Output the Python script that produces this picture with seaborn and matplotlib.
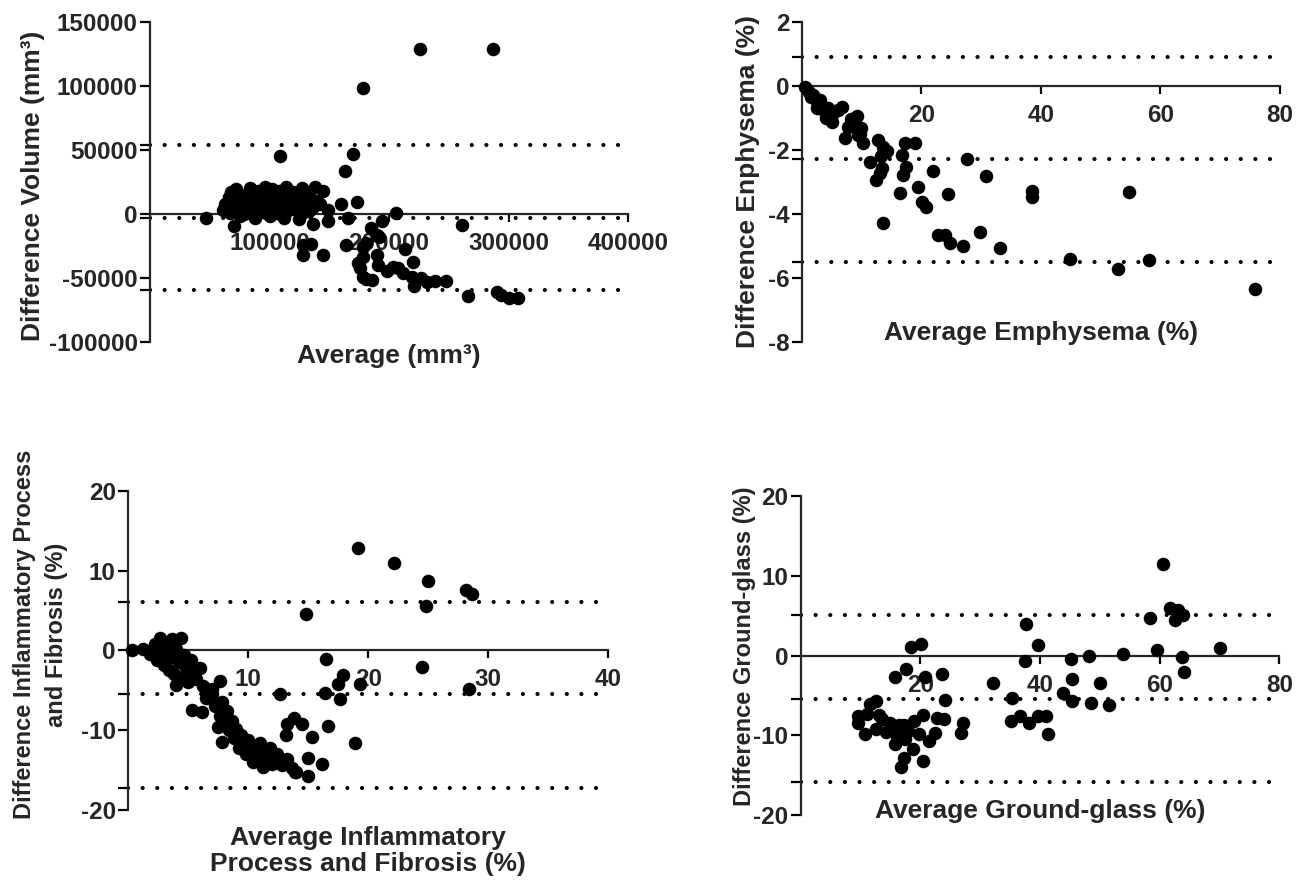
import numpy as np
import pandas as pd
import matplotlib
matplotlib.use('Agg')
import matplotlib.pyplot as plt
import seaborn as sns

# Volume panel (values in thousands of mm3)
vol_avg = [68, 72, 84, 90, 96, 102, 108, 114, 120, 127, 133, 138, 145,
           66, 70, 76, 80, 86, 93, 99, 104, 110, 116, 122, 128, 134, 140,
           63, 68, 73, 78, 84, 89, 94, 100, 106, 112, 118, 124, 130, 136, 142,
           61, 67, 72, 79, 85, 91, 97, 103, 109, 115, 121, 127, 133,
           75, 88, 100, 112, 125,
           47, 70.6, 109, 170, 163, 173, 160, 149, 166, 149, 136, 178, 226, 287, 205.6, 261,
           128, 135, 128, 144.5, 164,
           185, 194, 191.6, 189.7, 181, 178.5, 178.5, 189.7, 174, 175.7, 178.5, 181, 186,
           191, 198, 203.6, 207.8, 213, 212, 220, 219, 220.6, 227, 231.5, 238.5, 248,
           266, 290.6, 294, 300.7, 308]
vol_diff = [17, 19, 20, 18, 21, 19, 18, 21, 17, 20, 17, 21, 18,
            13, 15, 13, 15, 14, 15, 13, 15, 12, 14, 13, 15, 12, 10,
            8, 9, 7, 10, 8, 6, 9, 7, 10, 8, 6, 9, 7, 5, 8,
            3, 1, 3, 0, 2, 4, 1, 3, 0, 2, 4, 1, 2,
            -2, -3, -2, -3, -4,
            -3.6, -9.6, 45, 46.6, 33.4, 8.9, 7.6, 2.9, -3.6, -5.7, -8, 98.4, 128.4, 129, 1, -8.8,
            -24.5, -23.7, -32, -32, -24,
            -11.4, -5.5, -18, -16.6, -23, -25.8, -33.6, -32, -38.8, -42.7, -49, -51, -51.8,
            -40, -45, -41.4, -42.7, -27.8, -46.6, -37.5, -49, -56.5, -50.5, -53, -52.6, -52.6,
            -64.3, -61, -63.5, -65.6, -65.6]
vol_lines = [53.7, -2.9, -59.6]

# Emphysema panel (%)
emph_avg = [0.55, 1.2, 1.9, 2.5, 2.5, 3.2, 3.9, 4.4, 5.0, 5.3, 6.0, 6.7, 7.2, 8.6, 9.2,
            9.5, 10.0, 10.3, 12.8, 13.6, 14.3, 11.4, 13.4, 13.1, 12.4, 17.3, 18.9, 16.7,
            17.4, 17.0, 16.4, 13.6, 19.5, 20.1, 20.8, 22.0, 24.5, 27.6, 30.8, 22.8, 24.0,
            24.8, 26.9, 29.8, 33.2, 38.5, 38.6, 44.9, 52.9, 54.7, 58.1, 75.8,
            1.5, 3.0, 4.7, 7.8, 8.2, 9.8, 13.3, 4.0]
emph_diff = [-0.05, -0.2, -0.29, -0.5, -0.71, -0.6, -0.81, -0.7, -1.12, -0.86, -0.75, -0.66,
             -1.64, -1.18, -0.95, -1.54, -1.33, -1.8, -1.7, -1.9, -2.03, -2.37, -2.58, -2.74,
             -2.95, -1.8, -1.8, -2.17, -2.53, -2.79, -3.34, -4.3, -3.16, -3.63, -3.78, -2.67,
             -3.39, -2.3, -2.82, -4.67, -4.67, -4.9, -5.0, -4.56, -5.08, -3.28, -3.47, -5.42,
             -5.74, -3.33, -5.45, -6.36,
             -0.35, -0.45, -0.95, -1.3, -1.05, -1.5, -2.2, -1.0]
emph_lines = [0.9, -2.3, -5.5]

# Inflammatory process and fibrosis panel (%)
infl_avg = [19.1, 22.1, 25.0, 28.1, 28.6, 24.8, 14.8, 16.5, 24.5, 28.4, 19.3, 17.9, 17.5,
            17.6, 16.4, 12.6, 16.6, 18.9, 15.3, 15.0, 16.1, 15.0, 13.9, 13.1, 13.2, 13.8,
            14.5, 0.33,
            1.2, 1.8, 2.2, 2.4, 2.6, 2.8, 3.0, 3.2, 3.4, 3.6, 3.6, 3.8, 4.0, 4.2, 4.4, 4.4,
            4.6, 4.8, 5.0, 5.2, 5.4, 5.6, 6.0, 6.2, 4.0, 6.5, 7.0, 7.2, 7.6, 7.8, 8.0, 8.2,
            8.4, 8.6, 8.8, 9.0, 9.2, 9.4, 9.6, 9.8, 10.0, 10.2, 10.4, 10.6, 10.8, 11.0, 11.2,
            11.4, 11.6, 11.8, 12.0, 12.4, 12.8, 13.2, 13.6, 14.0, 7.5, 7.8, 6.1, 5.3, 7.6, 6.95]
infl_diff = [12.8, 11.0, 8.75, 7.6, 7.1, 5.6, 4.6, -1.04, -2.08, -4.8, -4.2, -3.1, -4.2,
             -6.1, -5.4, -5.5, -9.5, -11.6, -10.8, -13.5, -14.25, -15.7, -15.2, -10.6, -9.2,
             -8.5, -9.25, 0.1,
             0.2, -0.5, 0.8, -1.2, 1.5, -0.3, -1.8, 0.6, -2.4, 1.4, -0.8, -3.0, 0.2, -1.5, 1.6,
             -3.6, -0.6, -2.2, -4.0, -1.2, -2.8, -3.6, -2.2, -4.5, -4.4, -6.0, -5.5, -7.0, -8.2,
             -6.5, -9.0, -7.6, -10.0, -8.8, -11.0, -9.8, -12.2, -10.6, -11.8, -13.0, -11.2,
             -12.6, -14.0, -12.0, -13.4, -11.6, -14.6, -12.8, -13.6, -12.2, -14.2, -13.0, -14.4,
             -13.6, -14.8, -15.2, -9.6, -11.5, -7.7, -7.5, -3.8, -4.8]
infl_lines = [6.1, -5.5, -17.2]

# Ground-glass panel (%)
gg_avg = [60.5, 61.8, 63.1, 63.9, 62.6, 58.3, 59.5, 70.0, 63.7, 64.0, 53.8, 48.2, 45.2, 45.3,
          50.0, 43.9, 45.3, 48.5, 51.6, 37.7, 39.6, 37.4, 32.1, 35.3, 35.1, 36.7, 38.1, 39.7,
          41.0, 41.4, 18.4, 20.1, 17.6, 15.8, 20.8, 23.6, 24.1, 27.2, 26.8, 11.6, 12.6, 9.6,
          9.6, 10.75, 13.1, 12.6, 14.9, 15.5, 16.1, 15.8, 17.3, 17.4, 18.7, 17.2, 16.7, 19.7,
          20.5, 20.4, 21.5, 22.5, 22.7, 24.0, 13.5, 11.0, 14.2, 16.4, 18.0, 19.0]
gg_diff = [11.5, 5.96, 5.75, 5.1, 4.5, 4.7, 0.75, 0.96, -0.17, -2.04, 0.25, 0.0, -0.38, -2.9,
           -3.5, -4.7, -5.7, -5.9, -6.2, 3.96, 1.37, -0.7, -3.4, -5.3, -8.2, -7.6, -8.5, -7.6,
           -7.6, -9.9, 1.08, 1.46, -1.67, -2.67, -2.67, -2.3, -5.6, -8.5, -9.7, -6.1, -5.7, -7.6,
           -8.5, -9.9, -7.4, -9.25, -8.4, -9.25, -10.1, -11.1, -8.75, -10.5, -11.75, -12.9, -14.0,
           -9.9, -13.2, -7.5, -10.7, -9.7, -7.8, -7.9, -8.0, -7.3, -9.6, -8.7, -9.5, -8.2]
gg_lines = [5.1, -5.4, -15.9]

sns.set_style('ticks')
plt.rcParams['font.family'] = ['Liberation Sans', 'DejaVu Sans']
plt.rcParams['font.weight'] = 'bold'
plt.rcParams['axes.labelweight'] = 'bold'
plt.rcParams['axes.unicode_minus'] = False

fig = plt.figure(figsize=(13.08, 8.81), dpi=100)

LW = 1.6
TICK_FS = 17.5
LABEL_FS = 19
LOW_YLABEL_FS = 17


def panel(rect, avg, diff, lines, xlim, ylim, xticks, yticks):
    ax = fig.add_axes(rect)
    for v in lines:
        ax.axhline(v, color='black', lw=3.0, ls=(0, (0.01, 3.5)), dash_capstyle='round', zorder=1)
    df = pd.DataFrame({'avg': avg, 'diff': diff})
    sns.scatterplot(data=df, x='avg', y='diff', ax=ax, color='black', s=95,
                    linewidth=0, clip_on=False, zorder=3)
    ax.set_xlim(xlim)
    ax.set_ylim(ylim)
    ax.set_xlabel('')
    ax.set_ylabel('')
    ax.spines['top'].set_visible(False)
    ax.spines['right'].set_visible(False)
    ax.spines['bottom'].set_position(('data', 0))
    ax.spines['left'].set_linewidth(LW)
    ax.spines['bottom'].set_linewidth(LW)
    ax.spines['bottom'].set_zorder(2)
    ax.set_xticks(xticks)
    ax.set_yticks(yticks)
    ax.set_yticks(lines, minor=True)
    ax.tick_params(axis='y', which='both', length=7, width=LW, direction='out',
                   labelsize=TICK_FS, pad=2, color='black')
    ax.tick_params(axis='x', which='major', length=6, width=LW, direction='out',
                   labelsize=TICK_FS, pad=7, color='black')
    ax.tick_params(axis='x', which='minor', length=0)
    return ax


ax1 = panel([0.1147, 0.612, 0.3655, 0.3633], vol_avg, vol_diff, vol_lines,
            (0, 400), (-100, 150), [100, 200, 300, 400], [-100, -50, 0, 50, 100, 150])
ax1.set_xticklabels(['100000', '200000', '300000', '400000'])
ax1.set_yticklabels(['-100000', '-50000', '0', '50000', '100000', '150000'])
ax1.text(-0.245, 0.487, 'Difference Volume (mm³)', transform=ax1.transAxes, rotation=90,
         ha='center', va='center', fontsize=LABEL_FS)
ax1.text(0.5, -0.045, 'Average (mm³)', transform=ax1.transAxes, ha='center', va='center',
         fontsize=LABEL_FS)

ax2 = panel([0.6129, 0.612, 0.3657, 0.3633], emph_avg, emph_diff, emph_lines,
            (0, 80), (-8, 2), [20, 40, 60, 80], [-8, -6, -4, -2, 0, 2])
ax2.text(-0.112, 0.5, 'Difference Enphysema (%)', transform=ax2.transAxes, rotation=90,
         ha='center', va='center', fontsize=LABEL_FS)
ax2.text(0.5, 0.027, 'Average Emphysema (%)', transform=ax2.transAxes, ha='center',
         va='center', fontsize=LABEL_FS)

ax3 = panel([0.0981, 0.0806, 0.367, 0.3624], infl_avg, infl_diff, infl_lines,
            (0, 40), (-20, 20), [10, 20, 30, 40], [-20, -10, 0, 10, 20])
ax3.text(-0.183, 0.55, 'Difference Inflammatory Process\nand Fibrosis (%)',
         transform=ax3.transAxes, rotation=90, ha='center', va='center',
         fontsize=LOW_YLABEL_FS, linespacing=1.55)
ax3.text(0.5, -0.128, 'Average Inflammatory\nProcess and Fibrosis (%)',
         transform=ax3.transAxes, ha='center', va='center', fontsize=LABEL_FS,
         linespacing=1.1)

ax4 = panel([0.6122, 0.0749, 0.3659, 0.3621], gg_avg, gg_diff, gg_lines,
            (0, 80), (-20, 20), [20, 40, 60, 80], [-20, -10, 0, 10, 20])
ax4.text(-0.118, 0.53, 'Difference Ground-glass (%)', transform=ax4.transAxes, rotation=90,
         ha='center', va='center', fontsize=LOW_YLABEL_FS)
ax4.text(0.5, 0.0125, 'Average Ground-glass (%)', transform=ax4.transAxes, ha='center',
         va='center', fontsize=LABEL_FS)

fig.savefig('out.png', dpi=100, facecolor='white')
